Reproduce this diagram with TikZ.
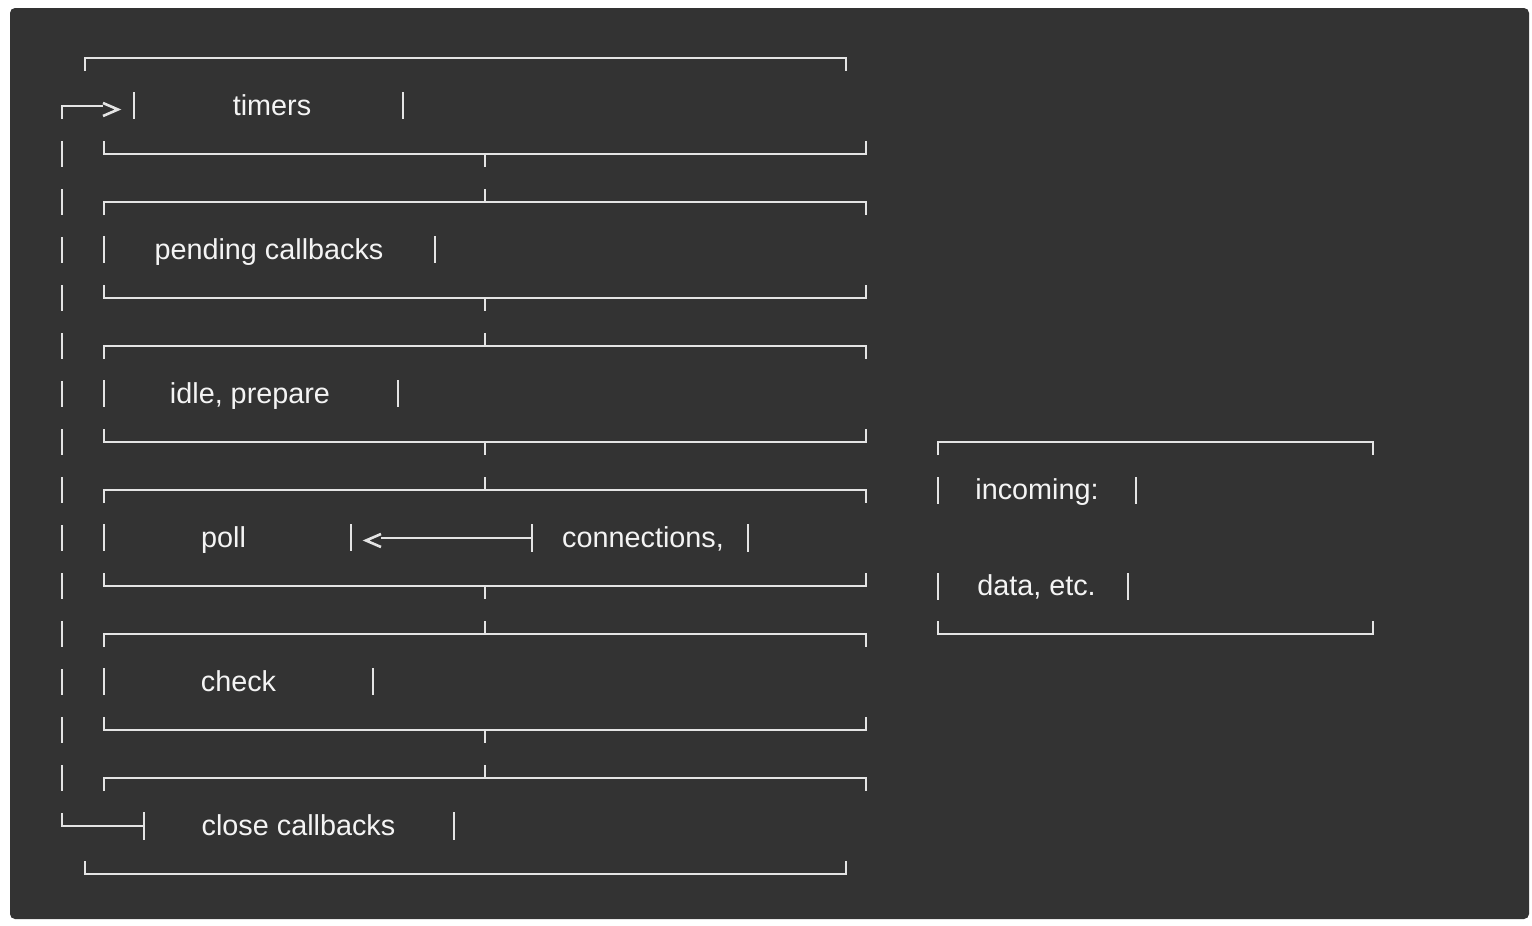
\documentclass[tikz,border=0pt]{standalone}
\usepackage{fontspec}
\setmainfont{Liberation Sans}
\definecolor{bgc}{HTML}{333333}
\definecolor{lnc}{HTML}{E4E4E4}
\definecolor{txc}{HTML}{F4F4F4}
\begin{document}
\begin{tikzpicture}[x=0.5pt,y=-0.5pt,
  wire/.style={draw=lnc,line width=0.9pt},
  chev/.style={draw=lnc,line width=1.3pt,line join=miter},
  lbl/.style={text=txc,font=\fontsize{14.4}{17}\selectfont,inner sep=0pt,anchor=base}]
\useasboundingbox (0,0) rectangle (1532,926);
\fill[white] (0,0) rectangle (1532,926);
\fill[bgc,rounded corners=2.5pt] (10,8) rectangle (1529,919);

% labels
\node[lbl] (timers) at (272,115) {timers};
\node[lbl] (pending) at (269,259) {pending callbacks};
\node[lbl] (idle) at (250,403) {idle, prepare};
\node[lbl] (poll) at (223.5,547) {poll};
\node[lbl] (conn) at (643,547) {connections,};
\node[lbl] (check) at (238.5,691) {check};
\node[lbl] (close) at (298.5,835) {close callbacks};
\node[lbl] (incoming) at (1037,499) {incoming:};
\node[lbl] (data) at (1036.5,595) {data, etc.};

% timers box
\draw[wire] (85,71)--(85,58)--(846,58)--(846,71);
\draw[wire] (134,92)--(134,119);
\draw[wire] (403,92)--(403,119);
\draw[wire] (104,141)--(104,154)--(866,154)--(866,141);
\draw[wire] (485,154)--(485,167);

% middle phase boxes
\foreach \t/\rb in {202/435,346/398,490/351,634/373}{
  \draw[wire] (104,{\t+13})--(104,\t)--(866,\t)--(866,{\t+13});
  \draw[wire] (485,\t)--(485,{\t-13});
  \draw[wire] (104,{\t+34})--(104,{\t+61});
  \draw[wire] (\rb,{\t+34})--(\rb,{\t+61});
  \draw[wire] (104,{\t+83})--(104,{\t+96})--(866,{\t+96})--(866,{\t+83});
  \draw[wire] (485,{\t+96})--(485,{\t+109});
}

% close callbacks box
\draw[wire] (104,791)--(104,778)--(866,778)--(866,791);
\draw[wire] (485,778)--(485,765);
\draw[wire] (144,812)--(144,840);
\draw[wire] (454,812)--(454,840);
\draw[wire] (85,861)--(85,874)--(846,874)--(846,861);

% loop back connector (close callbacks -> timers)
\coordinate (loopS) at (144,826);
\coordinate (loopB) at (62,826);
\coordinate (loopT) at (62,106);
\coordinate (loopE) at (103,106);
\draw[wire] (loopS)--(loopB)--(62,813);
\foreach \r in {154,202,...,778}{
  \draw[wire] (62,{\r-13})--(62,{\r+13});
}
\draw[wire] (62,119)--(loopT)--(loopE);
\draw[chev] (103,103)--(118,109.5)--(103,116);

% incoming box
\draw[wire] (938,455)--(938,442)--(1373,442)--(1373,455);
\draw[wire] (938,477)--(938,504);
\draw[wire] (1136,477)--(1136,504);
\draw[wire] (938,573)--(938,600);
\draw[wire] (1128,573)--(1128,600);
\draw[wire] (938,621)--(938,634)--(1373,634)--(1373,621);

% connections -> poll connector
\coordinate (connL) at (532,538);
\coordinate (pollR) at (381,538);
\draw[wire] (532,524)--(532,552);
\draw[wire] (748,524)--(748,552);
\draw[wire] (connL)--(pollR);
\draw[chev] (381,534)--(366,540.5)--(381,547);
\end{tikzpicture}
\end{document}
